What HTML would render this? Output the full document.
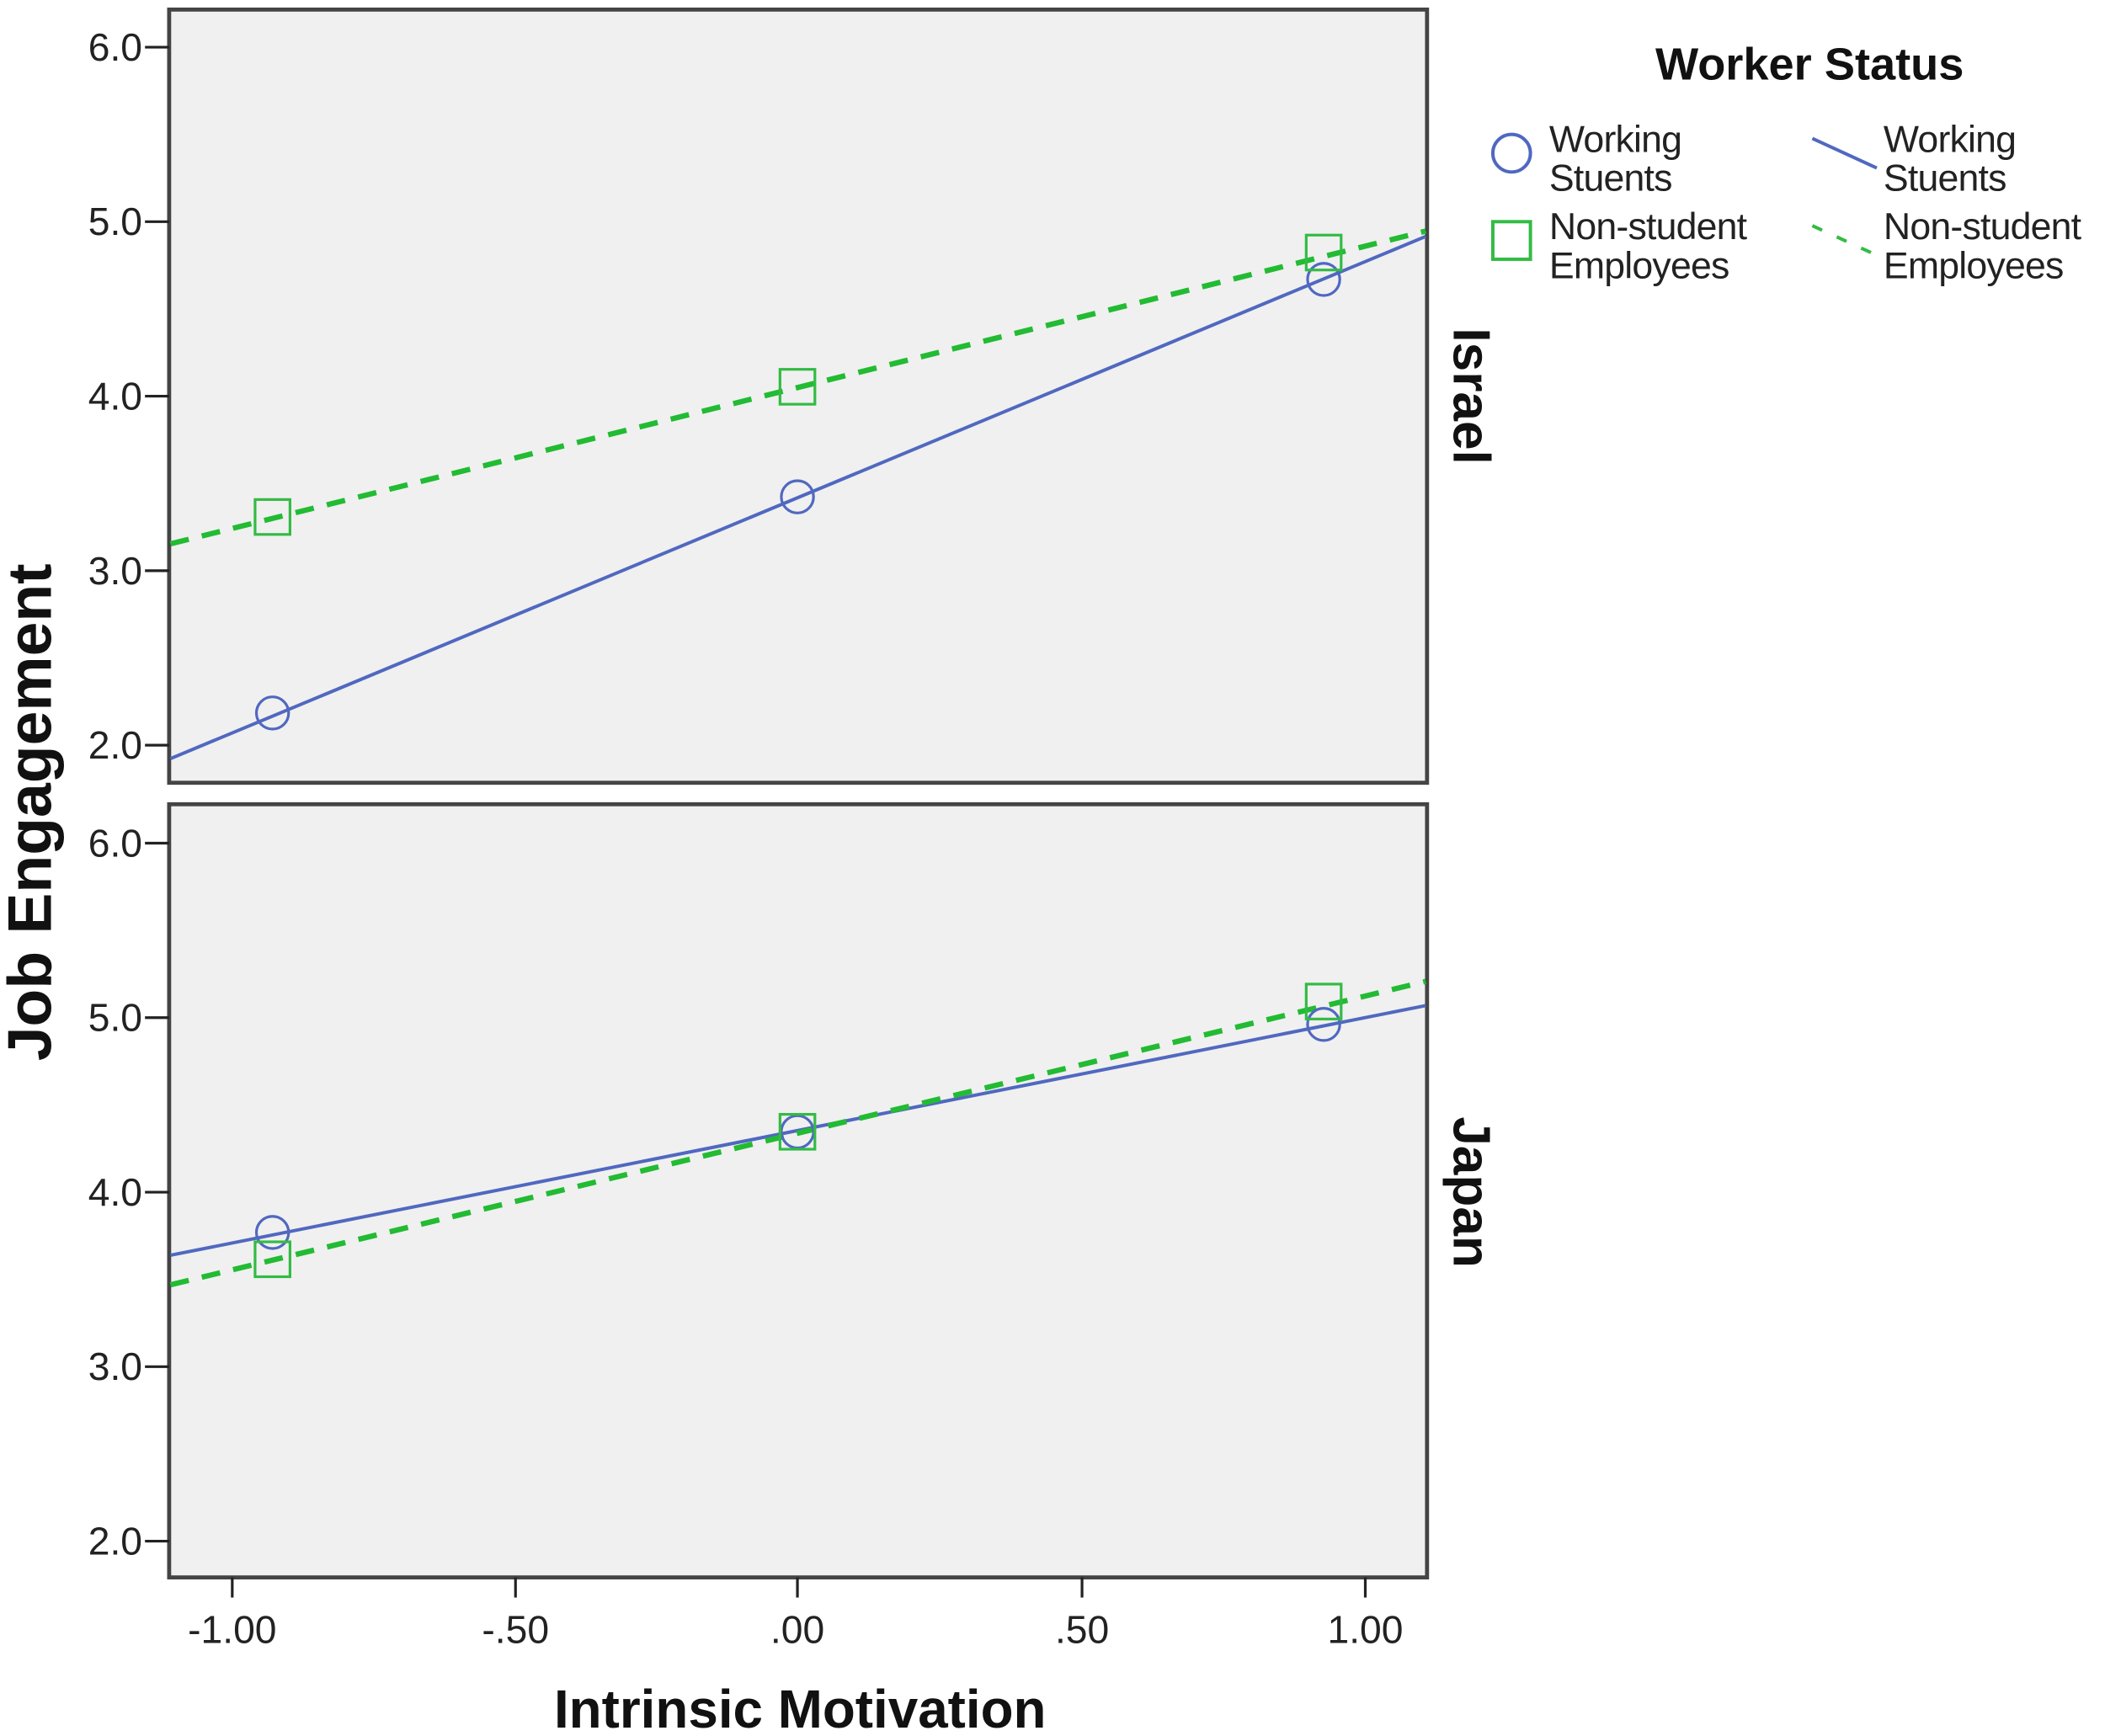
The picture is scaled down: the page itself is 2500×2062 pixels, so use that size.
<!DOCTYPE html>
<html><head><style>html,body{margin:0;padding:0;background:#fff}svg{display:block}</style></head><body>
<svg width="2500" height="2062" viewBox="0 0 1568 1293" xmlns="http://www.w3.org/2000/svg" font-family="Liberation Sans, sans-serif">
<rect width="1568" height="1293" fill="#fff"/>
<g stroke="#444" stroke-width="3" fill="#f0f0f0">
<rect x="126" y="7" width="937" height="576"/>
<rect x="126" y="599" width="937" height="576"/>
</g>
<g stroke="#222" stroke-width="2">
<line x1="108" y1="35" x2="126" y2="35"/><line x1="108" y1="165" x2="126" y2="165"/><line x1="108" y1="295" x2="126" y2="295"/><line x1="108" y1="425" x2="126" y2="425"/><line x1="108" y1="555" x2="126" y2="555"/>
<line x1="108" y1="628" x2="126" y2="628"/><line x1="108" y1="758" x2="126" y2="758"/><line x1="108" y1="888" x2="126" y2="888"/><line x1="108" y1="1018" x2="126" y2="1018"/><line x1="108" y1="1148" x2="126" y2="1148"/>
<line x1="173" y1="1175" x2="173" y2="1190"/><line x1="384" y1="1175" x2="384" y2="1190"/><line x1="594" y1="1175" x2="594" y2="1190"/><line x1="806" y1="1175" x2="806" y2="1190"/><line x1="1017" y1="1175" x2="1017" y2="1190"/>
</g>
<g font-size="29" fill="#222" text-anchor="end">
<text x="106" y="45">6.0</text><text x="106" y="175">5.0</text><text x="106" y="305">4.0</text><text x="106" y="435">3.0</text><text x="106" y="565">2.0</text>
<text x="106" y="638">6.0</text><text x="106" y="768">5.0</text><text x="106" y="898">4.0</text><text x="106" y="1028">3.0</text><text x="106" y="1158">2.0</text>
</g>
<g font-size="29" fill="#222" text-anchor="middle">
<text x="173" y="1224">-1.00</text><text x="384" y="1224">-.50</text><text x="594" y="1224">.00</text><text x="806" y="1224">.50</text><text x="1017" y="1224">1.00</text>
</g>
<text x="596" y="1287" font-size="40" font-weight="bold" text-anchor="middle" fill="#111">Intrinsic Motivation</text>
<text transform="translate(38,605) rotate(-90)" font-size="46" font-weight="bold" text-anchor="middle" fill="#111">Job Engagement</text>
<text transform="translate(1083,295) rotate(90)" font-size="39" font-weight="bold" text-anchor="middle" fill="#111">Israel</text>
<text transform="translate(1083,888) rotate(90)" font-size="39" font-weight="bold" text-anchor="middle" fill="#111">Japan</text>
<!-- Israel -->
<line x1="127" y1="565" x2="1062" y2="176" stroke="#5068c0" stroke-width="2.5"/>
<line x1="127" y1="405" x2="1062" y2="172" stroke="#22bb33" stroke-width="4" stroke-dasharray="14,10"/>
<g fill="none" stroke="#5068c0" stroke-width="2"><circle cx="203" cy="531" r="12"/><circle cx="594" cy="370" r="12"/><circle cx="986" cy="208" r="12"/></g>
<g fill="none" stroke="#33bb44" stroke-width="2"><rect x="190" y="372" width="26" height="26"/><rect x="581" y="275" width="26" height="26"/><rect x="973" y="175" width="26" height="26"/></g>
<!-- Japan -->
<line x1="127" y1="935" x2="1062" y2="749" stroke="#5068c0" stroke-width="2.5"/>
<line x1="127" y1="957" x2="1062" y2="731" stroke="#22bb33" stroke-width="4" stroke-dasharray="14,10"/>
<g fill="none" stroke="#5068c0" stroke-width="2"><circle cx="203" cy="918" r="12"/><circle cx="594" cy="843" r="12"/><circle cx="986" cy="763" r="12"/></g>
<g fill="none" stroke="#33bb44" stroke-width="2"><rect x="190" y="925" width="26" height="26"/><rect x="581" y="830" width="26" height="26"/><rect x="973" y="733" width="26" height="26"/></g>
<!-- Legend -->
<text x="1348" y="59" font-size="34" font-weight="bold" text-anchor="middle" fill="#111">Worker Status</text>
<ellipse cx="1126" cy="114" rx="14" ry="14" fill="none" stroke="#5068c0" stroke-width="2.5"/>
<rect x="1112" y="165" width="28" height="28" fill="none" stroke="#33bb44" stroke-width="2.5"/>
<line x1="1350" y1="103" x2="1398" y2="125" stroke="#5068c0" stroke-width="2.5"/>
<line x1="1350" y1="168" x2="1398" y2="190" stroke="#33bb44" stroke-width="2.5" stroke-dasharray="8,12"/>
<g font-size="28" fill="#222" letter-spacing="-0.5">
<text x="1154" y="113">Working</text><text x="1154" y="142">Stuents</text>
<text x="1154" y="178">Non-student</text><text x="1154" y="207">Employees</text>
<text x="1403" y="113">Working</text><text x="1403" y="142">Stuents</text>
<text x="1403" y="178">Non-student</text><text x="1403" y="207">Employees</text>
</g>
</svg>
</body></html>
